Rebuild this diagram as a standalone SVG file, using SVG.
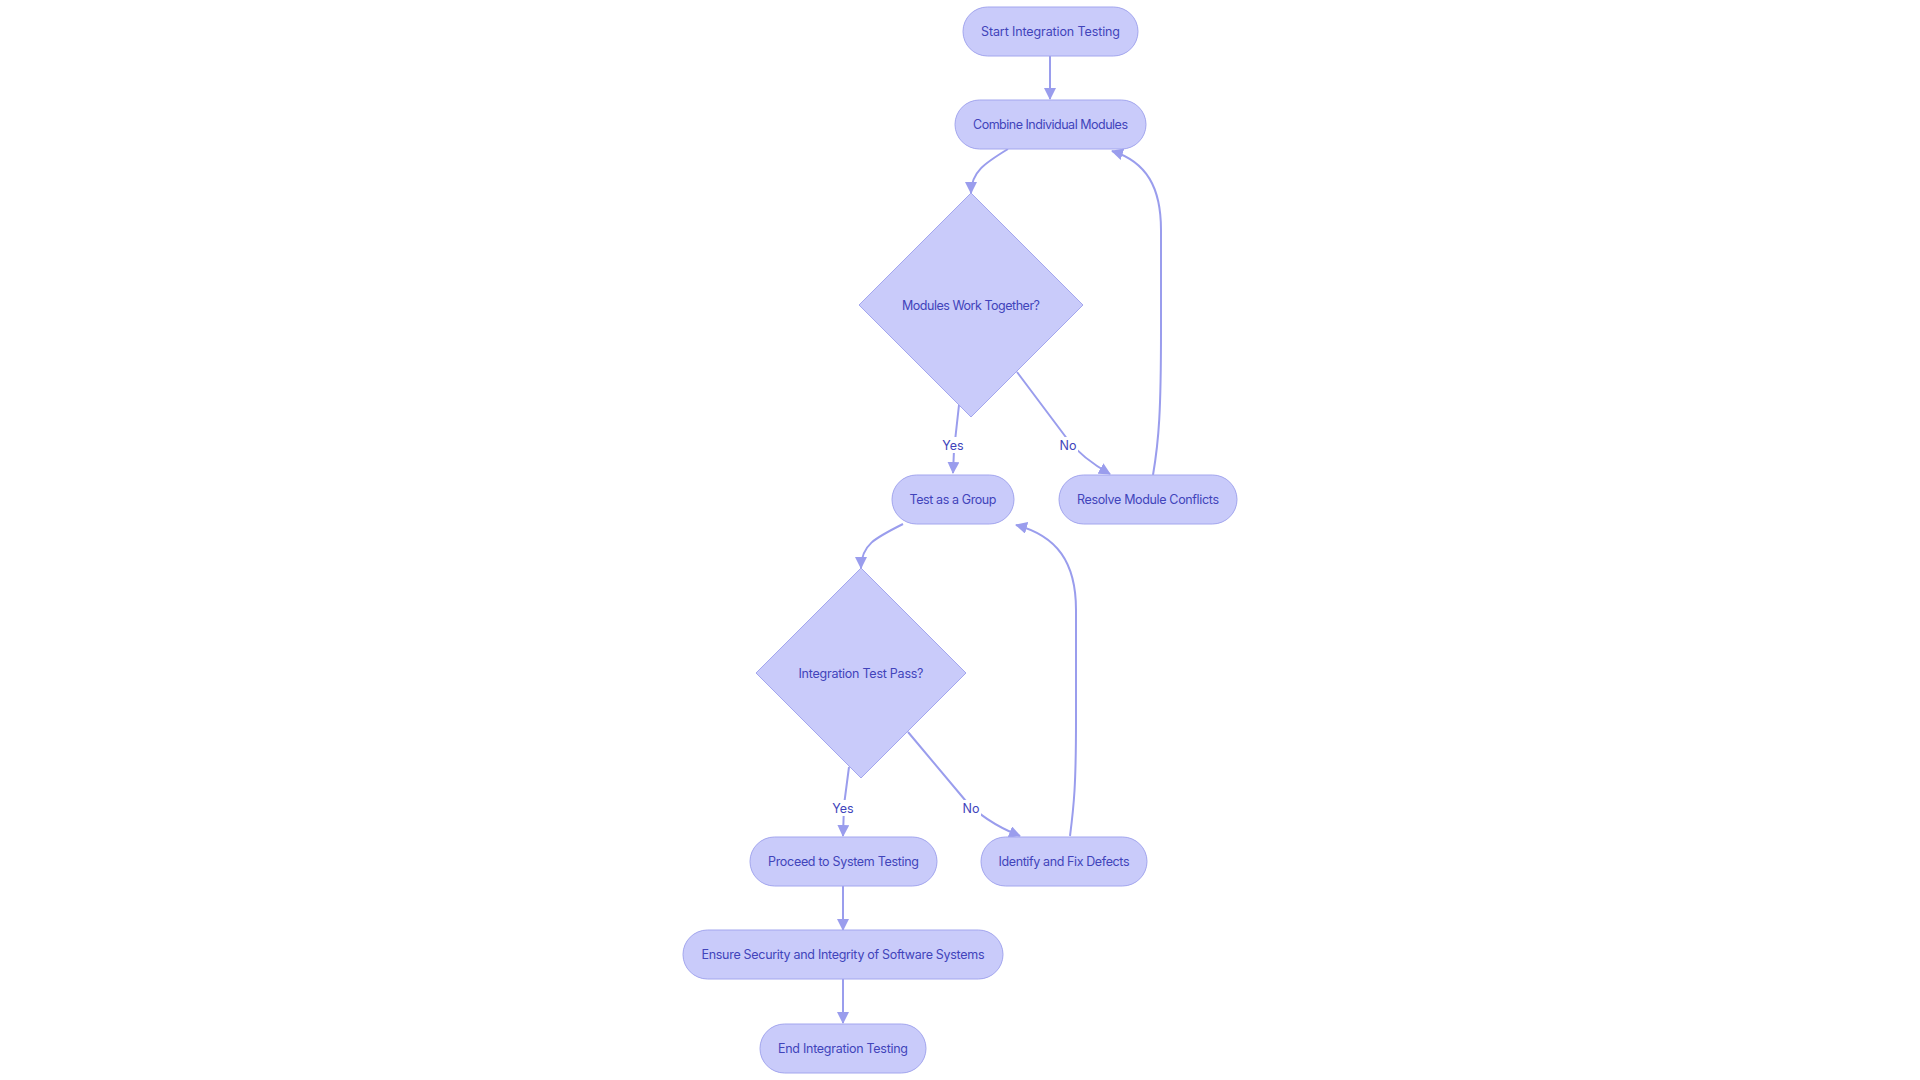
<svg xmlns="http://www.w3.org/2000/svg" width="1920" height="1080" viewBox="0 0 1920 1080">
<style>
.n{fill:#c9cbfa;stroke:#a3a6ee;stroke-width:1}
.t{font-family:Inter,"Liberation Sans",sans-serif;font-size:12.5px;fill:#4144bb;text-anchor:middle;dominant-baseline:central}
.e{fill:none;stroke:#9a9ded;stroke-width:2}
.lb{fill:#ffffff}
</style>
<defs>
<marker id="ah" markerWidth="12" markerHeight="12" refX="11" refY="6" orient="auto" markerUnits="userSpaceOnUse">
<path d="M0,0 L12,6 L0,12 z" fill="#9a9ded"/>
</marker>
</defs>
<rect width="1920" height="1080" fill="#ffffff"/>
<g id="connectors">
<path class="e" d="M1050,56 L1050,99" marker-end="url(#ah)"/>
<path class="e" d="M1008,149 C985,163 971,172 971,193" marker-end="url(#ah)"/>
<path class="e" d="M959,405 L954,450 L953,473" marker-end="url(#ah)"/>
<path class="e" d="M1017,372 L1068,440 Q1082,458 1110,474" marker-end="url(#ah)"/>
<path class="e" d="M1153,475 C1159,440 1161,410 1161,330 L1161,230 C1161,188 1147,162 1112,151" marker-end="url(#ah)"/>
<path class="e" d="M903,524 C875,538 861,545 861,568" marker-end="url(#ah)"/>
<path class="e" d="M849,767 L844,805 L843,836" marker-end="url(#ah)"/>
<path class="e" d="M908,732 L965,800 Q985,822 1020,836" marker-end="url(#ah)"/>
<path class="e" d="M1070,836 C1074,805 1076,785 1076,720 L1076,610 C1076,562 1057,536 1016,525" marker-end="url(#ah)"/>
<path class="e" d="M843,886 L843,930" marker-end="url(#ah)"/>
<path class="e" d="M843,979 L843,1023" marker-end="url(#ah)"/>
<g id="edge-labels">
<rect class="lb" x="941" y="437" width="24" height="16"/>
<text class="t" x="953" y="445">Yes</text>
<rect class="lb" x="1058" y="437" width="20" height="16"/>
<text class="t" x="1068" y="445">No</text>
<rect class="lb" x="831" y="800" width="24" height="16"/>
<text class="t" x="843" y="808">Yes</text>
<rect class="lb" x="961" y="800" width="20" height="16"/>
<text class="t" x="971" y="808">No</text>
</g>
</g>
<g id="start"><rect class="n" x="963" y="7" width="175" height="49" rx="24.5"/><text class="t" x="1050.5" y="31.5" textLength="139" lengthAdjust="spacing">Start Integration Testing</text></g>
<g id="combine"><rect class="n" x="955" y="100" width="191" height="49" rx="24.5"/><text class="t" x="1050.5" y="124.5" textLength="155" lengthAdjust="spacing">Combine Individual Modules</text></g>
<g id="modules-work"><polygon class="n" points="971,193 1083,305 971,417 859,305"/><text class="t" x="971" y="305" textLength="138" lengthAdjust="spacing">Modules Work Together?</text></g>
<g id="test-group"><rect class="n" x="892" y="475" width="122" height="49" rx="24.5"/><text class="t" x="953" y="499.5" textLength="87" lengthAdjust="spacing">Test as a Group</text></g>
<g id="resolve"><rect class="n" x="1059" y="475" width="178" height="49" rx="24.5"/><text class="t" x="1148" y="499.5" textLength="142" lengthAdjust="spacing">Resolve Module Conflicts</text></g>
<g id="test-pass"><polygon class="n" points="861,568 966,673 861,778 756,673"/><text class="t" x="861" y="673" textLength="125" lengthAdjust="spacing">Integration Test Pass?</text></g>
<g id="proceed"><rect class="n" x="750" y="837" width="187" height="49" rx="24.5"/><text class="t" x="843.5" y="861.5" textLength="151" lengthAdjust="spacing">Proceed to System Testing</text></g>
<g id="identify"><rect class="n" x="981" y="837" width="166" height="49" rx="24.5"/><text class="t" x="1064" y="861.5" textLength="131" lengthAdjust="spacing">Identify and Fix Defects</text></g>
<g id="ensure"><rect class="n" x="683" y="930" width="320" height="49" rx="24.5"/><text class="t" x="843" y="954.5" textLength="283" lengthAdjust="spacing">Ensure Security and Integrity of Software Systems</text></g>
<g id="end"><rect class="n" x="760" y="1024" width="166" height="49" rx="24.5"/><text class="t" x="843" y="1048.5" textLength="130" lengthAdjust="spacing">End Integration Testing</text></g>
</svg>
